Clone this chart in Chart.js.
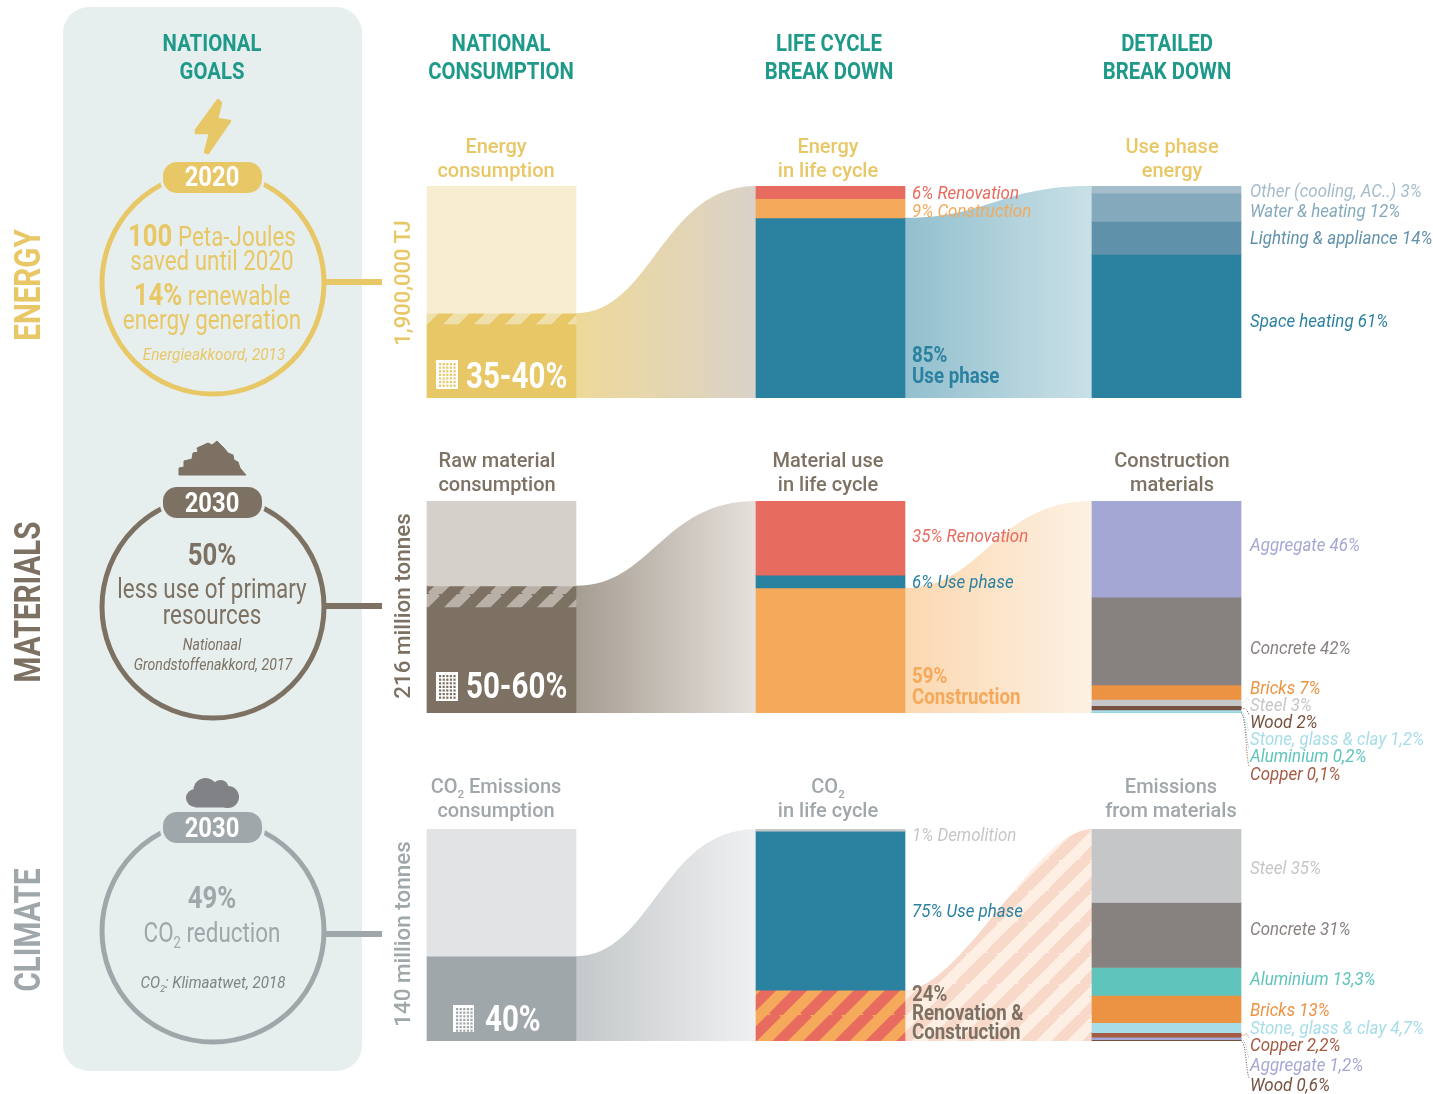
<!DOCTYPE html>
<html>
<head>
<meta charset="utf-8">
<title>Built environment goals</title>
<script src="https://cdn.jsdelivr.net/npm/chart.js@4"></script>
<style>
  html, body { margin: 0; background: #fff; }
  #page { position: relative; width: 1433px; height: 1094px; overflow: hidden; font-family: Roboto, sans-serif; }
  #panel { position: absolute; left: 63px; top: 7px; width: 299px; height: 1064px; border-radius: 26px; background: #e6efee; }
  #decor { position: absolute; left: 0; top: 0; z-index: 1; }
  canvas { position: absolute; left: 0; }
  .t { position: absolute; white-space: nowrap; line-height: 1; z-index: 2; }
  .t sub { font-size: 58%; line-height: 0; vertical-align: -0.42em; }
</style>
</head>
<body>
<div id="page">
  <div id="panel"></div>
  <svg id="decor" width="1433" height="1094"></svg>
  <canvas id="energyChart" width="1433" height="212" style="top:186px"></canvas>
  <canvas id="materialsChart" width="1433" height="292" style="top:501px"></canvas>
  <canvas id="climateChart" width="1433" height="265" style="top:829px"></canvas>
</div>
<script>
// national consumption: rest of the country, range band, solid built environment share
const energyNational = [60, 5, 35];
const materialsNational = [40, 10, 50];
const climateNational = [60, 40];

const energyLifeCycle = [6, 9, 85];
const materialsLifeCycle = [35, 6, 59];
const climateLifeCycle = [1, 75, 24];

const energyDetailNames = ['Other (cooling, AC..)', 'Water & heating', 'Lighting & appliance', 'Space heating'];
const energyDetailValues = [3, 12, 14, 61];
const materialsDetailNames = ['Aggregate', 'Concrete', 'Bricks', 'Steel', 'Wood', 'Stone, glass & clay', 'Aluminium', 'Copper'];
const materialsDetailValues = [46, 42, 7, 3, 2, 1.2, 0.2, 0.1];
const climateDetailNames = ['Steel', 'Concrete', 'Aluminium', 'Bricks', 'Stone, glass & clay', 'Copper', 'Aggregate', 'Wood'];
const climateDetailValues = [35, 31, 13.3, 13, 4.7, 2.2, 1.2, 0.6];

const colors = {
  teal: '#1f9a8a', energy: '#e8c767', materials: '#7d7163', climate: '#a0a7aa',
  blue: '#2b81a0', red: '#e76b5f', orange: '#f5a95b', panel: '#e6efee',
  aggregate: '#a4a6d4', concrete: '#87817f', bricks: '#ec9243', steel: '#c5c6c8',
  wood: '#75513f', stone: '#a6dde9', aluminium: '#5ec4bc', copper: '#a55a42'
};

const columnCentres = [501.5, 830.5, 1166.5];
const barWidth = 149;

// diagonal stripes that tile, used for the hatched bars and ribbon
function stripes(c1, c2, size) {
  const tile = document.createElement('canvas');
  tile.width = tile.height = size;
  const c = tile.getContext('2d');
  c.fillStyle = c1;
  c.fillRect(0, 0, size, size);
  c.strokeStyle = c2;
  c.lineWidth = size / (2 * Math.SQRT2);
  for (let k = -1; k <= 1; k++) {
    c.beginPath();
    c.moveTo(k * size - 2, size + 2);
    c.lineTo(k * size + size + 2, -2);
    c.stroke();
  }
  return document.createElement('canvas').getContext('2d').createPattern(tile, 'repeat');
}

const share = (values) => {
  const total = values.reduce((a, b) => a + b, 0);
  return values.map(v => v / total * 100);
};

const materialDetailColors = [colors.aggregate, colors.concrete, colors.bricks, colors.steel, colors.wood, colors.stone, colors.aluminium, colors.copper];
const climateDetailColors = [colors.steel, colors.concrete, colors.aluminium, colors.bricks, colors.stone, colors.copper, colors.aggregate, colors.wood];

const rows = [
  {
    canvas: 'energyChart', top: 186, padBottom: 0,
    columns: [
      { values: energyNational, colors: ['#f7eed2', stripes('#e8c767', '#efe0ab', 31), '#e8c767'] },
      { values: energyLifeCycle, colors: [colors.red, colors.orange, colors.blue] },
      { values: share(energyDetailValues), colors: ['#a5bccb', '#84a9bc', '#5f91aa', colors.blue] }
    ],
    flows: [
      { from: 0, startsAt: energyNational[0], fill: ['#eed999', '#dad2c9'], cp: [0.42, 0.48] },
      { from: 1, startsAt: energyLifeCycle[0] + energyLifeCycle[1], fill: ['#92bfce', '#c9e0e6'], cp: [0.45, 0.5] }
    ],
    leaders: []
  },
  {
    canvas: 'materialsChart', top: 501, padBottom: 80,
    columns: [
      { values: materialsNational, colors: ['#d5d0ca', stripes('#7d7163', '#b9b1a8', 31), '#7d7163'] },
      { values: materialsLifeCycle, colors: [colors.red, colors.blue, colors.orange] },
      { values: share(materialsDetailValues), colors: materialDetailColors }
    ],
    flows: [
      { from: 0, startsAt: materialsNational[0], fill: ['#a69d92', '#e6e1dc'], cp: [0.42, 0.48] },
      { from: 1, startsAt: materialsLifeCycle[0] + materialsLifeCycle[1], fill: ['#fbd8b0', '#fdf1e4'], cp: [0.42, 0.48] }
    ],
    leaders: [[3, 701], [4, 715], [5, 732], [6, 749], [7, 766]]
  },
  {
    canvas: 'climateChart', top: 829, padBottom: 53,
    columns: [
      { values: climateNational, colors: ['#e1e3e4', colors.climate] },
      { values: climateLifeCycle, colors: [colors.steel, colors.blue, stripes(colors.orange, colors.red, 31)] },
      { values: share(climateDetailValues), colors: climateDetailColors }
    ],
    flows: [
      { from: 0, startsAt: climateNational[0], fill: ['#c4c8ca', '#eff0f1'], cp: [0.42, 0.48] },
      { from: 1, startsAt: climateLifeCycle[0] + climateLifeCycle[1], pattern: stripes('#fdefe3', '#f8d8c9', 31), cp: [0.3, 0.7] }
    ],
    leaders: [[5, 1038], [6, 1058], [7, 1078]]
  }
];

// ribbons between the columns and dotted leaders to the small segments
function rowPlugin(row) {
  return {
    id: 'rowExtras',
    beforeDatasetsDraw(chart) {
      const { x, y } = chart.scales;
      const ctx = chart.ctx;
      row.flows.forEach(f => {
        const x0 = x.getPixelForValue(columnCentres[f.from]) + barWidth / 2;
        const x1 = x.getPixelForValue(columnCentres[f.from + 1]) - barWidth / 2;
        const y0 = y.getPixelForValue(f.startsAt);
        const y1 = y.getPixelForValue(0);
        const yb = y.getPixelForValue(100);
        const w = x1 - x0;
        ctx.save();
        ctx.beginPath();
        ctx.moveTo(x0, y0);
        ctx.bezierCurveTo(x0 + f.cp[0] * w, y0, x0 + f.cp[1] * w, y1, x1, y1);
        ctx.lineTo(x1, yb);
        ctx.lineTo(x0, yb);
        ctx.closePath();
        if (f.pattern) {
          ctx.fillStyle = f.pattern;
        } else {
          const g = ctx.createLinearGradient(x0, 0, x1, 0);
          g.addColorStop(0, f.fill[0]);
          g.addColorStop(1, f.fill[1]);
          ctx.fillStyle = g;
        }
        ctx.fill();
        ctx.restore();
      });
    },
    afterDatasetsDraw(chart) {
      const { x, y } = chart.scales;
      const ctx = chart.ctx;
      const detail = row.columns[2];
      const xr = x.getPixelForValue(columnCentres[2]) + barWidth / 2;
      row.leaders.forEach(([idx, labelY]) => {
        const before = detail.values.slice(0, idx).reduce((a, b) => a + b, 0);
        const ys = y.getPixelForValue(before + detail.values[idx] / 2);
        const ye = labelY - row.top;
        ctx.save();
        ctx.strokeStyle = detail.colors[idx];
        ctx.lineWidth = 1;
        ctx.setLineDash([1, 1.5]);
        ctx.beginPath();
        ctx.moveTo(xr, ys);
        ctx.bezierCurveTo(xr + 5, ys + 2, xr + 5, ye - 8, xr + 8, ye);
        ctx.stroke();
        ctx.restore();
      });
    }
  };
}

rows.forEach(row => {
  const datasets = [];
  row.columns.forEach((col, c) => {
    col.values.forEach((v, i) => {
      datasets.push({
        data: [{ x: columnCentres[c], y: v }],
        backgroundColor: col.colors[i],
        barThickness: barWidth,
        borderWidth: 0
      });
    });
  });
  new Chart(document.getElementById(row.canvas), {
    type: 'bar',
    data: { datasets },
    options: {
      responsive: false,
      animation: false,
      layout: { padding: { bottom: row.padBottom } },
      plugins: { legend: { display: false }, tooltip: { enabled: false } },
      scales: {
        x: { type: 'linear', min: 0, max: 1433, stacked: true, offset: false, display: false },
        y: { min: 0, max: 100, reverse: true, stacked: true, display: false }
      }
    },
    plugins: [rowPlugin(row)]
  });
});

// ---- text
const page = document.getElementById('page');
const condensed = 0.89;

function text(html, x, y, size, color, opts = {}) {
  const el = document.createElement('div');
  const k = opts.k || condensed;
  el.className = 't';
  el.innerHTML = html;
  el.style.left = x + 'px';
  el.style.top = y + 'px';
  el.style.fontSize = size + 'px';
  el.style.color = color;
  el.style.fontWeight = opts.weight || 400;
  if (opts.italic) el.style.fontStyle = 'italic';
  if (opts.rotate) {
    el.style.transform = `translate(-50%,-50%) rotate(-90deg) scaleX(${k})`;
  } else if (opts.start) {
    el.style.transformOrigin = 'left center';
    el.style.transform = `translateY(-50%) scaleX(${k})`;
  } else {
    el.style.transform = `translate(-50%,-50%) scaleX(${k})`;
  }
  page.appendChild(el);
}

const bold = (s) => `<span style="font-weight:700">${s}</span>`;
const pct = (v) => String(v).replace('.', ',') + '%';
const escapeAmp = (s) => s.replace('&', '&amp;');

// column headings
[['NATIONAL', 'GOALS', 212], ['NATIONAL', 'CONSUMPTION', 501], ['LIFE CYCLE', 'BREAK DOWN', 829], ['DETAILED', 'BREAK DOWN', 1167]].forEach(h => {
  text(h[0], h[2], 43, 23, colors.teal, { weight: 700, k: 0.885 });
  text(h[1], h[2], 71, 23, colors.teal, { weight: 700, k: 0.885 });
});

// side titles and totals
text('ENERGY', 28, 285, 36, colors.energy, { weight: 700, rotate: true, k: 0.82 });
text('MATERIALS', 28, 602, 36, colors.materials, { weight: 700, rotate: true, k: 0.82 });
text('CLIMATE', 28, 930, 36, colors.climate, { weight: 700, rotate: true, k: 0.82 });
text('1,900,000 TJ', 403, 283, 22, colors.energy, { weight: 500, rotate: true, k: 1 });
text('216 million tonnes', 403, 606, 22, colors.materials, { weight: 500, rotate: true, k: 1.02 });
text('140 million tonnes', 403, 934, 22, colors.climate, { weight: 500, rotate: true, k: 1.02 });

// titles above the bars
const titles = [
  ['Energy', 'consumption', 496, 146, colors.energy], ['Energy', 'in life cycle', 828, 146, colors.energy], ['Use phase', 'energy', 1172, 146, colors.energy],
  ['Raw material', 'consumption', 497, 460, colors.materials], ['Material use', 'in life cycle', 828, 460, colors.materials], ['Construction', 'materials', 1172, 460, colors.materials],
  ['CO<sub>2</sub> Emissions', 'consumption', 496, 786, colors.climate], ['CO<sub>2</sub>', 'in life cycle', 828, 786, colors.climate], ['Emissions', 'from materials', 1171, 786, colors.climate]
];
titles.forEach(t => {
  text(t[0], t[2], t[3], 20, t[4], { weight: 500, k: 1 });
  text(t[1], t[2], t[3] + 24, 20, t[4], { weight: 500, k: 1 });
});

// big numbers in the national bars
text('35-40%', 466, 376, 36, '#fff', { weight: 700, start: true, k: 0.82 });
text('50-60%', 466, 686, 36, '#fff', { weight: 700, start: true, k: 0.82 });
text('40%', 485, 1019, 36, '#fff', { weight: 700, start: true, k: 0.82 });

// life cycle labels
const lifeX = 912;
text(`${energyLifeCycle[0]}% Renovation`, lifeX, 192, 19, colors.red, { italic: true, start: true });
text(`${energyLifeCycle[1]}% Construction`, lifeX, 210, 19, colors.orange, { italic: true, start: true });
text(`${energyLifeCycle[2]}%`, lifeX, 355, 22, colors.blue, { weight: 700, start: true, k: 0.85 });
text('Use phase', lifeX, 376, 22, colors.blue, { weight: 700, start: true, k: 0.85 });
text(`${materialsLifeCycle[0]}% Renovation`, lifeX, 535, 19, colors.red, { italic: true, start: true });
text(`${materialsLifeCycle[1]}% Use phase`, lifeX, 581, 19, colors.blue, { italic: true, start: true });
text(`${materialsLifeCycle[2]}%`, lifeX, 676, 22, colors.orange, { weight: 700, start: true, k: 0.85 });
text('Construction', lifeX, 697, 22, colors.orange, { weight: 700, start: true, k: 0.85 });
text(`${climateLifeCycle[0]}% Demolition`, lifeX, 834, 19, colors.steel, { italic: true, start: true });
text(`${climateLifeCycle[1]}% Use phase`, lifeX, 910, 19, colors.blue, { italic: true, start: true });
text(`${climateLifeCycle[2]}%`, lifeX, 994, 22, colors.materials, { weight: 700, start: true, k: 0.85 });
text('Renovation &amp;', lifeX, 1013, 22, colors.materials, { weight: 700, start: true, k: 0.85 });
text('Construction', lifeX, 1032, 22, colors.materials, { weight: 700, start: true, k: 0.85 });

// detail labels
const detailX = 1250;
function detailLabels(names, values, cols, ys) {
  names.forEach((n, i) => {
    text(`${escapeAmp(n)} ${pct(values[i])}`, detailX, ys[i], 19, cols[i], { italic: true, start: true });
  });
}
detailLabels(energyDetailNames, energyDetailValues, ['#a5bccb', '#84a9bc', '#5f91aa', colors.blue], [190, 210, 237, 320]);
detailLabels(materialsDetailNames, materialsDetailValues, materialDetailColors, [544, 647, 687, 704, 721, 738, 755, 773]);
detailLabels(climateDetailNames, climateDetailValues, climateDetailColors, [867, 928, 978, 1009, 1027, 1044, 1064, 1084]);

// national goals panel
const pk = 0.83;
text('2020', 212, 177, 28, '#fff', { weight: 700, k: 0.85 });
text('2030', 212, 503, 28, '#fff', { weight: 700, k: 0.85 });
text('2030', 212, 828, 28, '#fff', { weight: 700, k: 0.85 });

text(`<span style="font-size:31px">${bold('100')}</span> Peta-Joules`, 212, 235, 27, colors.energy, { k: pk });
text('saved until 2020', 212, 261, 27, colors.energy, { k: pk });
text(`<span style="font-size:31px">${bold('14%')}</span> renewable`, 212, 294, 27, colors.energy, { k: pk });
text('energy generation', 212, 320, 27, colors.energy, { k: pk });
text('Energieakkoord, 2013', 214, 354, 17, colors.energy, { italic: true, k: 0.9 });

text('50%', 212, 554, 31, colors.materials, { weight: 700, k: pk });
text('less use of primary', 212, 589, 27, colors.materials, { k: pk });
text('resources', 212, 615, 27, colors.materials, { k: pk });
text('Nationaal', 212, 644, 17, colors.materials, { italic: true, k: pk });
text('Grondstoffenakkord, 2017', 213, 664, 17, colors.materials, { italic: true, k: pk });

text('49%', 212, 897, 31, colors.climate, { weight: 700, k: pk });
text('CO<sub>2</sub> reduction', 212, 933, 27, colors.climate, { k: pk });
text('CO<sub>2</sub>: Klimaatwet, 2018', 213, 982, 17, '#7f8486', { italic: true, k: 0.89 });

// ---- icons, goal circles and connectors
function building(x, y, w, h, hole) {
  let s = `<rect x="${x}" y="${y}" width="${w}" height="${h}" fill="#fff"/>`;
  for (let r = 0; r < 7; r++) {
    for (let c = 0; c < 5; c++) {
      s += `<rect x="${x + 3 + c * 3.6}" y="${y + 3 + r * 3.6}" width="2.2" height="2.2" fill="${hole}"/>`;
    }
  }
  return s;
}

function goal(cy, pillY, lineY, color) {
  return `<circle cx="213" cy="${cy}" r="111" fill="none" stroke="${color}" stroke-width="5"/>` +
    `<rect x="163" y="${pillY}" width="99" height="31" rx="14" fill="${color}" stroke="${colors.panel}" stroke-width="6" paint-order="stroke"/>` +
    `<rect x="326" y="${lineY - 3}" width="56" height="6" fill="${color}"/>`;
}

document.getElementById('decor').innerHTML =
  goal(283, 162, 282, colors.energy) +
  goal(607, 487, 606, colors.materials) +
  goal(931, 812, 934, colors.climate) +
  `<path d="M218 100 L221 103 L217 119 L230 121 L208 153 L205 152 L210 133 L196 133 L196 130 Z" fill="${colors.energy}" stroke="${colors.energy}" stroke-width="2.5" stroke-linejoin="round"/>` +
  `<path d="M179 475 L179 468 L184 467 L184 461 L192 459 L193 453 L198 452 L197 448 L208 443 L212 445 L217 441 L224 448 L228 453 L233 455 L234 460 L238 462 L240 468 L246 475 Z" fill="${colors.materials}" stroke="${colors.materials}" stroke-width="1"/>` +
  `<g fill="#808285"><circle cx="205.5" cy="790" r="12"/><circle cx="220.5" cy="788" r="8"/><circle cx="228" cy="797" r="11"/><circle cx="195" cy="798" r="9"/><rect x="195" y="790" width="33" height="17.5"/></g>` +
  building(436, 360, 22, 29, colors.energy) +
  building(436, 672, 22, 29, colors.materials) +
  building(453, 1005, 21, 27, colors.climate);
</script>
</body>
</html>
